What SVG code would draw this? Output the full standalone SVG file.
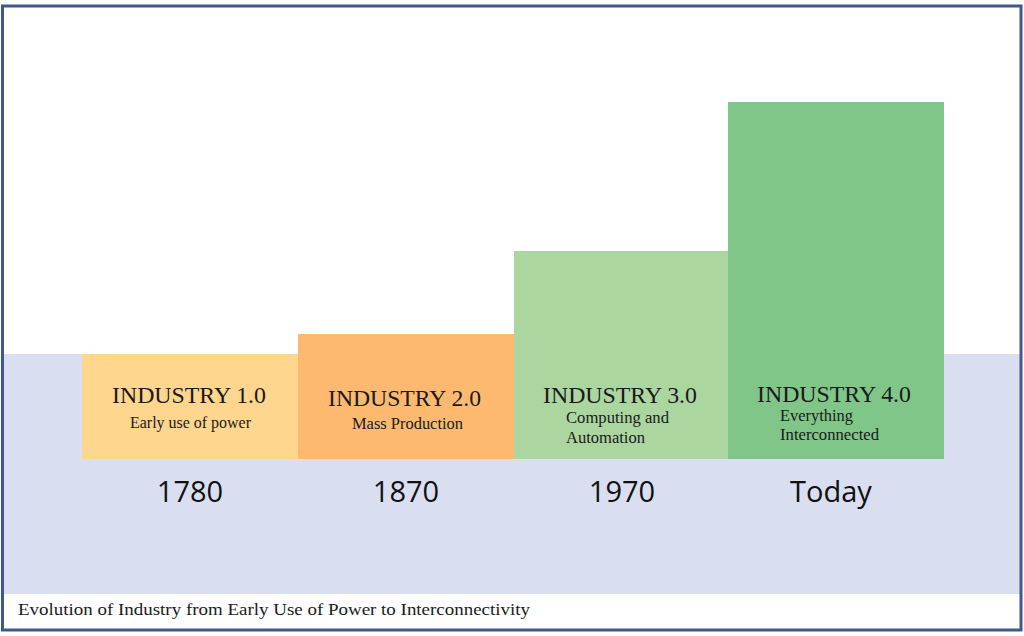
<svg xmlns="http://www.w3.org/2000/svg" width="1024" height="636" viewBox="0 0 1024 636">
<style>
.t{font-family:"Liberation Serif",serif;fill:#1a1a1a}
.h{font-size:23px}
.s{font-size:16px}
.y{font-family:"Open Sans","Noto Sans",sans-serif;font-size:29px;fill:#111;text-anchor:middle}
</style>
<rect x="0" y="0" width="1024" height="636" fill="#ffffff"/>
<rect id="band" x="3" y="354" width="1017" height="240" fill="#d9dff0"/>
<g id="n1">
<rect x="82" y="354" width="216" height="105" fill="#fed68e"/>
<text class="t h" x="112" y="403" textLength="154" lengthAdjust="spacingAndGlyphs">INDUSTRY 1.0</text>
<text class="t s" x="130" y="428" textLength="121" lengthAdjust="spacingAndGlyphs">Early use of power</text>
<text class="y" x="190" y="502">1780</text>
</g>
<g id="n2">
<rect x="298" y="334" width="216" height="125" fill="#fdb96f"/>
<text class="t h" x="328" y="406" textLength="153" lengthAdjust="spacingAndGlyphs">INDUSTRY 2.0</text>
<text class="t s" x="352" y="429" textLength="111" lengthAdjust="spacingAndGlyphs">Mass Production</text>
<text class="y" x="406" y="502">1870</text>
</g>
<g id="n3">
<rect x="514" y="251" width="214" height="208" fill="#acd6a0"/>
<text class="t h" x="543" y="403" textLength="154" lengthAdjust="spacingAndGlyphs">INDUSTRY 3.0</text>
<text class="t s" x="566" y="423" textLength="103" lengthAdjust="spacingAndGlyphs">Computing and</text>
<text class="t s" x="566" y="443" textLength="79" lengthAdjust="spacingAndGlyphs">Automation</text>
<text class="y" x="622" y="502">1970</text>
</g>
<g id="n4">
<rect x="728" y="102" width="216" height="357" fill="#7fc688"/>
<text class="t h" x="757" y="402" textLength="154" lengthAdjust="spacingAndGlyphs">INDUSTRY 4.0</text>
<text class="t s" x="780" y="421" textLength="73" lengthAdjust="spacingAndGlyphs">Everything</text>
<text class="t s" x="780" y="440" textLength="99" lengthAdjust="spacingAndGlyphs">Interconnected</text>
<text class="y" x="831" y="502">Today</text>
</g>
<g id="connectors"></g>
<text class="t" x="18" y="615" font-size="17" textLength="512" lengthAdjust="spacingAndGlyphs">Evolution of Industry from Early Use of Power to Interconnectivity</text>
<rect id="frame" x="2.5" y="6" width="1018.5" height="624" fill="none" stroke="#3e5a8a" stroke-width="3"/>
</svg>
